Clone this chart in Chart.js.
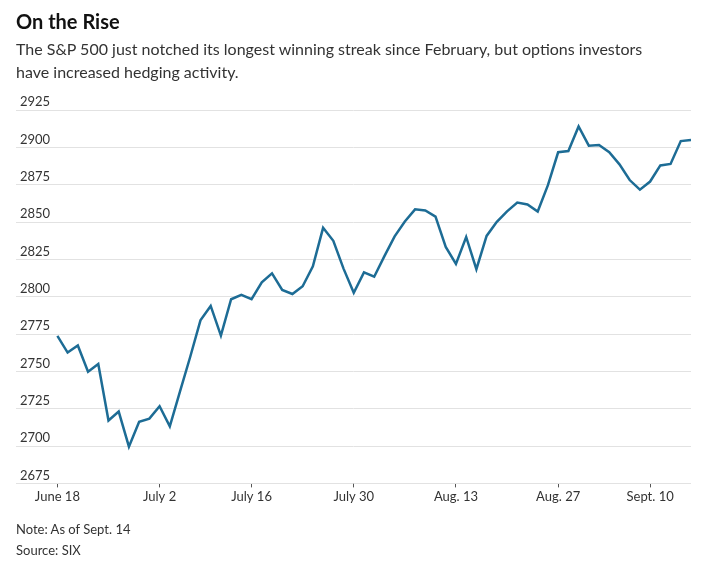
<!DOCTYPE html>
<html>
<head>
<meta charset="utf-8">
<script src="https://cdn.jsdelivr.net/npm/chart.js@4.4.1/dist/chart.umd.min.js"></script>
<style>
  html, body { margin: 0; padding: 0; background: #fff; }
  body { width: 722px; height: 568px; position: relative; overflow: hidden; font-family: Lato, "Noto Sans", sans-serif; }
  #title { position: absolute; left: 16px; top: 9px; font-size: 20px; font-weight: bold; color: #111; }
  #subtitle { position: absolute; left: 16px; top: 37px; width: 700px; font-size: 16px; line-height: 23px; color: #333; white-space: nowrap; }
  #notes { position: absolute; left: 16px; top: 519px; font-size: 13px; line-height: 21px; color: #333; }
  #wrap { position: absolute; left: 0; top: 0; width: 722px; height: 568px; }
</style>
</head>
<body>
<div id="wrap"><canvas id="chart"></canvas></div>
<div id="title">On the Rise</div>
<div id="subtitle">The S&amp;P 500 just notched its longest winning streak since February, but options investors<br>have increased hedging activity.</div>
<div id="notes">Note: As of Sept. 14<br>Source: SIX</div>
<script>
// S&P 500 daily close, June 18 - Sept. 14 (one value per trading day)
const juneValues = [2773.8, 2762.6, 2767.3, 2749.8, 2754.9, 2717.1, 2723.1, 2699.6, 2716.3, 2718.4];
const julyValues = [2726.7, 2713.2, 2736.6, 2759.8, 2784.2, 2793.8, 2774.0, 2798.3, 2801.3, 2798.4,
                    2809.6, 2815.6, 2804.5, 2801.8, 2807.0, 2820.4, 2846.1, 2837.4, 2818.8, 2802.6, 2816.3];
const augValues = [2813.4, 2827.2, 2840.4, 2850.4, 2858.5, 2857.7, 2853.6, 2833.3, 2821.9, 2840.0,
                   2818.4, 2840.7, 2850.1, 2857.1, 2863.0, 2861.8, 2857.0, 2874.7, 2896.7, 2897.5,
                   2914.0, 2901.1, 2901.5];
const septValues = [2896.7, 2888.6, 2878.1, 2871.7, 2877.1, 2887.9, 2888.9, 2904.2, 2905.0];

const xTickLabels = ['June 18', 'July 2', 'July 16', 'July 30', 'Aug. 13', 'Aug. 27', 'Sept. 10'];
const xTickIndex = [0, 10, 19, 29, 39, 49, 58];
const yTicks = [2675, 2700, 2725, 2750, 2775, 2800, 2825, 2850, 2875, 2900, 2925];

const values = [...juneValues, ...julyValues, ...augValues, ...septValues];
const points = values.map((v, i) => ({ x: i, y: v }));

new Chart(document.getElementById('chart'), {
    type: 'line',
    data: {
        datasets: [{
            data: points,
            borderColor: '#1d6c95',
            borderWidth: 2.5,
            pointRadius: 0,
            tension: 0,
            fill: false
        }]
    },
    options: {
        responsive: true,
        maintainAspectRatio: false,
        animation: false,
        layout: { padding: { top: 110, left: 8, right: 31, bottom: 61 } },
        plugins: { legend: { display: false }, tooltip: { enabled: false } },
        scales: {
            x: {
                type: 'linear',
                min: -4.05,
                max: 62,
                afterBuildTicks: axis => { axis.ticks = xTickIndex.map(v => ({ value: v })); },
                grid: { drawOnChartArea: false, drawTicks: true, tickLength: 4, color: '#555' },
                border: { display: false },
                ticks: {
                    autoSkip: false,
                    maxRotation: 0,
                    padding: 2,
                    color: '#333',
                    font: { family: 'Lato', size: 13 },
                    callback: v => xTickLabels[xTickIndex.indexOf(v)]
                }
            },
            y: {
                min: yTicks[0],
                max: yTicks[yTicks.length - 1],
                afterBuildTicks: axis => { axis.ticks = yTicks.map(v => ({ value: v })); },
                grid: { drawTicks: false, color: '#e2e2e2', lineWidth: 1 },
                border: { display: false },
                ticks: {
                    mirror: true,
                    padding: 4,
                    labelOffset: -8,
                    color: '#333',
                    font: { family: 'Lato', size: 13 },
                    callback: v => String(v)
                }
            }
        }
    }
});
</script>
</body>
</html>
